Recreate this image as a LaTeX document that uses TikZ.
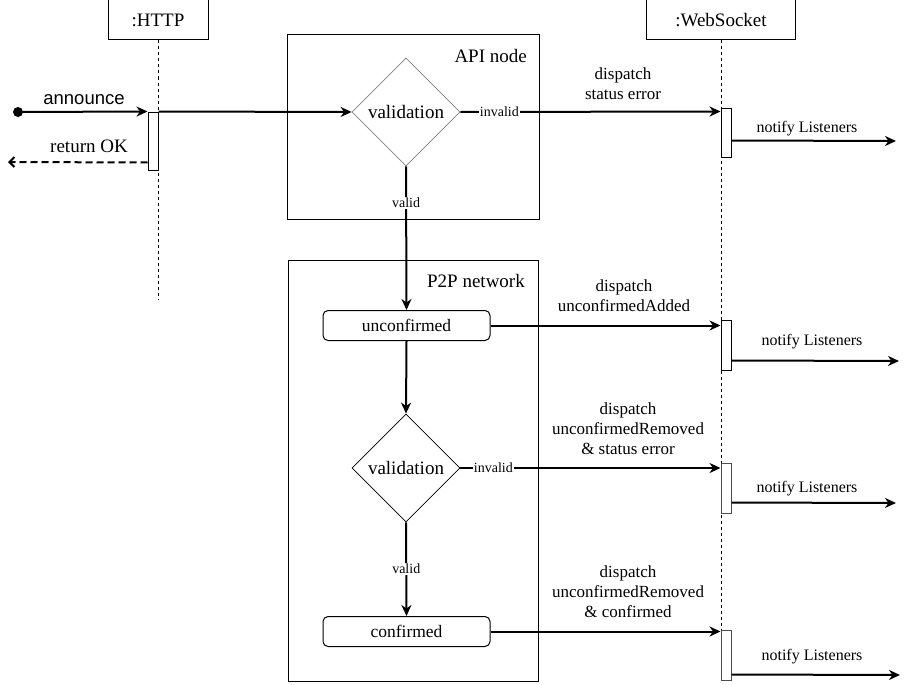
\documentclass[tikz,border=0pt]{standalone}
\usepackage{fontspec}
\setmainfont{Liberation Serif}
\newfontfamily\labelsans{Liberation Sans}
\usetikzlibrary{arrows.meta,shapes.geometric,calc}

\tikzset{
  head/.style={draw, line width=1pt, fill=white, minimum width=#1, minimum height=40, inner sep=0,
               font=\fontsize{19}{22}\selectfont},
  lifeline/.style={line width=1pt, dash pattern=on 3pt off 3pt},
  actbar/.style={draw, line width=1pt, fill=white, minimum width=10, minimum height=#1, inner sep=0},
  frame/.style={draw, line width=1pt, minimum width=#1, inner sep=0},
  framelbl/.style={anchor=east, inner sep=0, font=\fontsize{19}{22}\selectfont},
  decision/.style={draw, diamond, shape aspect=1, line width=0.8pt, minimum width=108, minimum height=108,
                   inner sep=0, font=\fontsize{19}{22}\selectfont},
  state/.style={draw, rounded corners=5pt, line width=1pt, minimum width=167, minimum height=30, inner sep=0,
                font=\fontsize{17.5}{20}\selectfont},
  msg/.style={line width=2pt, -{Stealth[length=11pt, width=10pt, inset=3.5pt]}},
  ret/.style={line width=2pt, dash pattern=on 7pt off 4pt, -{Straight Barb[length=5pt, width=10pt, line width=2pt]}},
  lbl/.style={inner sep=0, align=center, font=\fontsize{17}{20}\selectfont},
  nlbl/.style={inner sep=0, font=\fontsize{16}{19}\selectfont},
  guard/.style={fill=white, inner sep=1pt, font=\fontsize{14}{16}\selectfont},
}

\begin{document}
\begin{tikzpicture}[x=1pt, y=-1pt]
  \useasboundingbox (0,0) rectangle (910,685);

  % group frames
  \node[frame=252, minimum height=184] (api) at (413,127) {};
  \node[framelbl] (apilbl) at (527,56) {API node};
  \node[frame=250, minimum height=421] (p2p) at (413,470.5) {};
  \node[framelbl] (p2plbl) at (525,281) {P2P network};

  % lifelines
  \node[head=100] (http) at (158,20) {:HTTP};
  \node[head=149] (ws) at (721,20) {:WebSocket};
  \coordinate (httpend) at (158,300);
  \coordinate (wsend) at (721,680);
  \draw[lifeline] (http.south) -- (httpend);
  \draw[lifeline] (ws.south) -- (wsend);

  % activation bars
  \node[actbar=58] (httpbar) at (153,141) {};
  \node[actbar=49] (wsbar1) at (726,132.5) {};
  \node[actbar=50] (wsbar2) at (726,345) {};
  \node[actbar=50, draw=black!70] (wsbar3) at (726,488) {};
  \node[actbar=50, draw=black!70] (wsbar4) at (726,655) {};

  % flow nodes
  \node[decision, draw=black!50] (val1) at (406,112) {validation};
  \node[state] (unconf) at (406.5,325.5) {unconfirmed};
  \node[decision] (val2) at (406,468) {validation};
  \node[state] (conf) at (406.5,631.5) {confirmed};

  % incoming request and reply
  \node[circle, fill, inner sep=0, minimum size=10] (start) at (18,112) {};
  \draw[msg] (start) -- (httpbar.north west);
  \node[inner sep=0, font=\labelsans\fontsize{18.5}{21}\selectfont] (annlbl) at (84,100) {announce};
  \coordinate (retend) at (8,162);
  \draw[ret] ($(httpbar.south west)+(0,-8)$) -- (retend);
  \node[inner sep=0, font=\fontsize{19}{22}\selectfont] (retlbl) at (89,146.5) {return OK};

  % API node
  \draw[msg] (httpbar.north east) -- (val1.west);
  \draw[msg] (val1.east) -- ($(wsbar1.north west)+(0,4)$) node[guard, pos=0.15] {invalid};
  \node[lbl] (d1) at (623,84) {dispatch\\status error};
  \draw[msg] (val1.south) -- (unconf.north) node[guard, pos=0.255] {valid};

  % P2P network
  \draw[msg] (unconf.east) -- (unconf.east -| wsbar2.west);
  \node[lbl] (d2) at (624,296) {dispatch\\unconfirmedAdded};
  \draw[msg] (unconf.south) -- (val2.north);
  \draw[msg] (val2.east) -- (val2.east -| wsbar3.west) node[guard, pos=0.127] {invalid};
  \node[lbl] (d3) at (628,429) {dispatch\\unconfirmedRemoved\\\& status error};
  \draw[msg] (val2.south) -- (conf.north) node[guard, pos=0.5] {valid};
  \draw[msg] (conf.east) -- (conf.east -| wsbar4.west);
  \node[lbl] (d4) at (628,592) {dispatch\\unconfirmedRemoved\\\& confirmed};

  % listener notifications
  \coordinate (n1) at (896,141);
  \coordinate (n2) at (899,361);
  \coordinate (n3) at (896,503);
  \coordinate (n4) at (900,675);
  \draw[msg] ($(wsbar1.north east)+(0,33)$) -- (n1);
  \draw[msg] ($(wsbar2.north east)+(0,41)$) -- (n2);
  \draw[msg] ($(wsbar3.north east)+(0,40)$) -- (n3);
  \draw[msg] ($(wsbar4.north east)+(0,45)$) -- (n4);
  \node[nlbl] (l1) at (807,129) {notify Listeners};
  \node[nlbl] (l2) at (812,342) {notify Listeners};
  \node[nlbl] (l3) at (807,489) {notify Listeners};
  \node[nlbl] (l4) at (812,657) {notify Listeners};
\end{tikzpicture}
\end{document}
